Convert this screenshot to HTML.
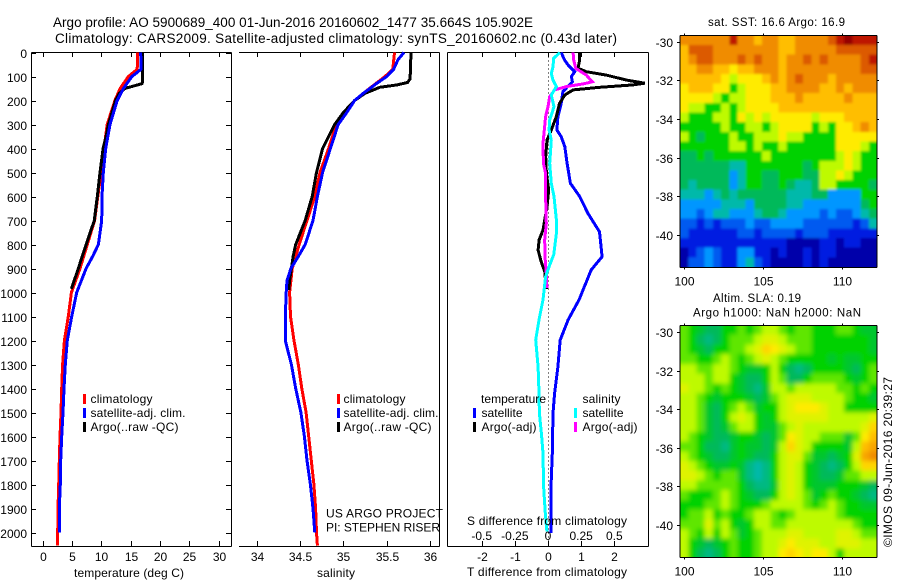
<!DOCTYPE html>
<html>
<head>
<meta charset="utf-8">
<title>Argo profile</title>
<style>
html,body{margin:0;padding:0;background:#fff;}
svg{display:block;font-family:"Liberation Sans",sans-serif;font-size:12px;fill:#000;}
.ax{stroke:#000;stroke-width:1;fill:none;shape-rendering:crispEdges;}
.ln{fill:none;stroke-width:3;stroke-linejoin:miter;shape-rendering:crispEdges;}
</style>
</head>
<body>
<svg id="chart" xmlns="http://www.w3.org/2000/svg" width="900" height="580" viewBox="0 0 900 580">
<defs>
<clipPath id="clipSst"><rect x="680" y="35" width="197" height="232"/></clipPath>
<clipPath id="clipSla"><rect x="680" y="325" width="197" height="233"/></clipPath>
<filter id="soft" x="-5%" y="-5%" width="110%" height="110%"><feGaussianBlur stdDeviation="2.5"/></filter>
<filter id="softer" x="-5%" y="-5%" width="110%" height="110%"><feGaussianBlur stdDeviation="1.2"/></filter>
</defs>
<text x="53" y="27" font-size="13.5" textLength="480" lengthAdjust="spacing">Argo profile: AO 5900689_400 01-Jun-2016 20160602_1477 35.664S 105.902E</text>
<text x="55" y="43" font-size="13.5" textLength="562" lengthAdjust="spacing">Climatology: CARS2009. Satellite-adjusted climatology: synTS_20160602.nc (0.43d later)</text>

<g id="gT"></g>
<g id="gS"></g>
<g id="gD"></g>
<g id="gM1"></g>
<g id="gM2"></g>

<text x="74" y="577" textLength="110" lengthAdjust="spacing">temperature (deg C)</text>
<text x="317" y="577" textLength="38" lengthAdjust="spacing">salinity</text>
<text x="467" y="576" textLength="160" lengthAdjust="spacing">T difference from climatology</text>
<text x="467" y="525" textLength="160" lengthAdjust="spacing">S difference from climatology</text>

<g>
<rect x="83" y="394" width="3" height="10" fill="#f00"/>
<rect x="83" y="408" width="3" height="10" fill="#00f"/>
<rect x="83" y="422" width="3" height="10" fill="#000"/>
<text x="90.5" y="403" textLength="62" lengthAdjust="spacing">climatology</text>
<text x="90.5" y="417" textLength="95" lengthAdjust="spacing">satellite-adj. clim.</text>
<text x="90.5" y="431" textLength="88" lengthAdjust="spacing">Argo(..raw -QC)</text>
</g>
<g>
<rect x="337" y="394" width="3" height="10" fill="#f00"/>
<rect x="337" y="408" width="3" height="10" fill="#00f"/>
<rect x="337" y="422" width="3" height="10" fill="#000"/>
<text x="343.5" y="403" textLength="62" lengthAdjust="spacing">climatology</text>
<text x="343.5" y="417" textLength="95" lengthAdjust="spacing">satellite-adj. clim.</text>
<text x="343.5" y="431" textLength="88" lengthAdjust="spacing">Argo(..raw -QC)</text>
</g>
<text x="326" y="517.5" textLength="117" lengthAdjust="spacing">US ARGO PROJECT</text>
<text x="326" y="531.5" textLength="114" lengthAdjust="spacing">PI: STEPHEN RISER</text>

<g>
<text x="481" y="403" textLength="65" lengthAdjust="spacing">temperature</text>
<text x="481.5" y="417" textLength="41" lengthAdjust="spacing">satellite</text>
<text x="481.5" y="431" textLength="55" lengthAdjust="spacing">Argo(-adj)</text>
<rect x="473" y="408" width="3" height="10" fill="#00f"/>
<rect x="473" y="422" width="3" height="10" fill="#000"/>
<text x="582.5" y="403" textLength="38" lengthAdjust="spacing">salinity</text>
<text x="582.5" y="417" textLength="41" lengthAdjust="spacing">satellite</text>
<text x="582.5" y="431" textLength="55" lengthAdjust="spacing">Argo(-adj)</text>
<rect x="574" y="408" width="3" height="10" fill="#0ff"/>
<rect x="574" y="422" width="3" height="10" fill="#f0f"/>
</g>

<text x="708" y="26" font-size="11.5" textLength="137" lengthAdjust="spacing">sat. SST: 16.6 Argo: 16.9</text>
<text x="713" y="302" font-size="11.5" textLength="88" lengthAdjust="spacing">Altim. SLA: 0.19</text>
<text x="693" y="316.5" font-size="11.5" textLength="168" lengthAdjust="spacing">Argo h1000: NaN h2000: NaN</text>
<text transform="translate(892,547) rotate(-90)" textLength="170" lengthAdjust="spacing">©IMOS 09-Jun-2016 20:39:27</text>
</svg>

<script>
// ---------- data ----------
const depthTicks = [0,100,200,300,400,500,600,700,800,900,1000,1100,1200,1300,1400,1500,1600,1700,1800,1900,2000];
const tempTicks = [0,5,10,15,20,25,30];
const salTicks = [34,34.5,35,35.5,36];
const salTickLabels = ['34','34.5','35','35.5','36'];
const tDiffTicks = [-2,-1,0,1,2];
const tDiffTickLabels = ['-2','-1','0','1','2'];
const sDiffTicks = [-0.5,-0.25,0,0.25,0.5];
const sDiffTickLabels = ['-0.5','-0.25','0','0.25','0.5'];
const lonTicks = [100,105,110];
const latTicks = [-30,-32,-34,-36,-38,-40];

const climDepth = [0,70,100,150,200,300,400,500,600,700,800,900,1000,1100,1200,1300,1400,1500,1600,1700,1800,1900,2000,2055];
const climTemp = [16.2,16.1,14.6,13.2,12.3,11.0,10.45,9.95,9.4,8.85,7.6,6.35,4.9,4.37,3.7,3.4,3.24,3.12,2.95,2.83,2.73,2.6,2.56,2.56];
const satTempDepth = [0,70,85,100,150,200,300,400,500,600,700,800,850,900,1000,1100,1200,1300,1400,1500,1600,1700,1800,1900,2000];
const satTemp = [16.7,16.75,16.0,15.2,13.75,12.7,11.47,10.73,10.33,10.1,10.05,9.5,8.5,7.4,5.8,4.95,4.2,3.85,3.63,3.46,3.24,3.07,3.0,2.83,2.83];
const argoTempDepth = [0,125,130,140,150,170,200,300,350,400,500,600,700,800,900,985];
const argoTemp = [17.05,17.0,16.9,15.45,14.0,13.05,12.4,11.2,10.8,10.3,9.77,9.3,8.8,7.4,6.07,4.9];

const climSal = [35.59,35.57,35.48,35.3,35.13,34.92,34.83,34.73,34.67,34.58,34.49,34.41,34.38,34.39,34.43,34.48,34.52,34.57,34.6,34.63,34.66,34.68,34.69,34.70];
const satSalDepth = [0,30,70,100,130,170,200,250,300,400,500,600,700,800,850,900,950,1000,1100,1200,1300,1400,1500,1600,1700,1800,1900,2000];
const satSal = [35.70,35.63,35.58,35.5,35.38,35.23,35.13,35.04,34.94,34.85,34.76,34.70,34.65,34.56,34.48,34.395,34.35,34.34,34.33,34.33,34.40,34.45,34.51,34.55,34.58,34.62,34.65,34.67];
const argoSalDepth = [0,110,125,135,145,170,200,250,300,350,400,500,600,700,800,850,900,950,990];
const argoSal = [35.78,35.77,35.74,35.62,35.42,35.25,35.13,35.0,34.9,34.83,34.76,34.69,34.64,34.56,34.45,34.42,34.40,34.38,34.37];

const dSatTDepth = [0,31,52,80,100,122,163,212,267,323,351,392,462,545,600,670,747,851,906,1031,1114,1198,1309,1420,1503,1670,1809,2003];
const dSatT = [0.40,0.50,0.61,0.81,0.71,0.74,0.45,0.40,0.30,0.27,0.40,0.51,0.58,0.68,0.96,1.21,1.56,1.64,1.31,0.94,0.61,0.37,0.30,0.20,0.15,0.13,0.09,0.09];
const dArgoTDepth = [0,31,66,80,94,115,128,135,145,156,177,212,267,323,365,434,503,573,642,740,781,823,865,913,985];
const dArgoT = [0.96,0.96,0.91,1.16,1.77,2.38,2.93,2.58,1.57,0.76,0.51,0.35,0.25,0.10,-0.03,-0.07,-0.05,0.02,-0.03,-0.15,-0.27,-0.30,-0.22,-0.10,-0.05];
const dSatSDepth = [0,24,59,87,115,142,177,226,281,323,365,462,545,600,698,754,843,885,934,1031,1114,1198,1309,1420,1503,1587,1670,1809,1920,1996];
const dSatS = [0.09,0.043,0.038,0.025,0.038,0.063,0.025,0.045,0.013,0.008,0.025,0.013,0.025,0.045,0.063,0.063,0.043,0.013,-0.018,-0.038,-0.068,-0.093,-0.075,-0.068,-0.065,-0.05,-0.038,-0.033,-0.02,-0.008];
const dArgoSDepth = [0,31,66,94,122,131,142,156,184,226,267,337,378,462,503,600,712,781,851,920,982];
const dArgoS = [0.189,0.194,0.209,0.289,0.334,0.265,0.139,0.05,0.013,0,-0.018,-0.03,-0.038,-0.035,-0.018,-0.018,-0.013,-0.025,-0.023,-0.013,-0.008];

const sstGrid = [
[10,10,10,10,10,10,12,10,10,9,10,10,9,9,10,10,10,10,11,12,13,12,12,12],
[9,11,11,11,10,10,10,10,10,10,10,10,9,9,10,10,10,10,10,11,11,11,11,11],
[9,10,11,11,10,10,10,11,10,11,10,10,9,10,10,11,10,11,10,10,10,10,11,12],
[9,9,10,10,9,9,8,9,9,10,10,10,9,10,10,10,10,10,10,10,10,10,11,11],
[9,9,9,9,9,8,7,8,8,8,9,10,9,10,11,10,10,10,9,10,10,10,10,10],
[8,9,9,9,8,8,6,7,8,8,8,9,9,10,10,10,10,9,9,10,9,10,10,10],
[8,8,8,8,7,6,7,7,8,8,8,9,9,9,10,9,9,9,9,9,10,9,9,9],
[8,7,7,6,6,7,6,7,8,8,8,8,9,9,9,9,9,9,9,9,9,9,9,9],
[7,6,6,6,7,7,6,8,7,8,7,8,8,8,8,8,7,8,8,8,9,9,9,9],
[6,6,6,6,6,7,6,6,7,7,6,7,8,8,8,8,6,7,6,8,8,9,10,9],
[7,6,5,6,6,6,7,6,6,7,7,7,8,7,7,6,6,6,6,8,8,8,8,8],
[6,6,6,6,6,6,7,7,6,7,6,6,7,6,6,6,6,6,6,8,8,8,7,6],
[5,5,6,5,6,6,6,6,6,6,7,6,6,6,6,6,6,6,6,7,8,7,6,6],
[5,5,5,5,5,5,4,4,6,6,6,6,6,6,6,5,6,7,7,7,8,7,6,6],
[5,5,5,5,5,5,3,4,6,6,5,5,6,6,6,5,5,7,7,8,7,6,6,6],
[5,4,5,5,5,5,3,4,6,6,5,5,6,5,4,4,5,7,7,6,6,6,6,5],
[4,4,4,3,4,5,4,5,5,5,5,5,5,4,4,4,5,5,3,3,3,3,6,6],
[3,3,3,3,3,4,4,4,3,5,5,5,5,4,4,3,3,3,3,3,3,3,5,6],
[3,3,2,3,4,4,3,3,3,4,5,5,4,3,3,3,3,2,3,2,2,3,4,5],
[2,2,1,2,1,2,2,2,3,2,2,3,3,3,3,2,2,2,2,2,2,1,2,4],
[2,1,1,1,1,1,1,2,2,1,2,2,2,2,1,2,2,2,1,1,1,1,1,1],
[1,1,1,1,1,1,1,1,1,1,1,1,1,0,0,0,0,1,1,0,1,1,0,0],
[0,1,2,3,2,1,1,3,3,1,1,0,1,0,0,1,0,1,1,0,0,0,0,0],
[0,2,2,3,2,1,1,3,4,2,1,0,0,0,0,1,0,1,0,0,0,0,0,0]
];
const slaGrid = [
[6.5,6,5.5,5,5,6,6,6.5,6,6.5,7,7,6.5,6,6.5,6.5,6,6,6,6.5,6.5,6,5.5,5.5],
[6.5,6,5,4.5,5,6,6.5,6.5,6.5,7,7.5,7.5,7,6.5,6.5,6.5,6,6,6,6,6,6,6,5.5],
[6.5,6,5.5,5,6,6,6.5,6.5,7,7.5,8.5,8,7.5,7,6.5,6.5,6,6,6,6,6,6,6,5.5],
[6.5,6.5,6,6,6.5,7,6.5,6,6.5,7,7.5,7,6.5,6,6,6,6,6,5.5,6,5.5,5.5,6,6],
[7,7,6.5,6.5,7,7,6.5,6,5.5,5.5,6,7,6,5,4.5,5,6,6,6,6,5.5,5,6,6.5],
[7,7,7,6.5,7,7,6,5.5,5,5,6,7,6.5,5,5,6,6.5,6.5,6.5,6.5,6,5.5,6,6.5],
[7.5,7,7,6.5,6,6.5,6,5.5,5,4.5,5.5,7,7,6.5,7,7,7,7,7,6.5,6.5,6,6.5,6],
[7,7,6.5,6,5.5,6,6,6,5.5,5,5.5,6.5,7,7.5,7.5,7.5,7,7,7,7,6.5,6,6,5.5],
[7,7,6.5,5.5,5,6,6.5,7,6.5,5.5,6,6,7,7.5,8,8,8,7.5,7,7,6,6,6,6],
[7,7,6.5,5.5,5,6,7,7.5,7,6,5.5,6,7,7.5,7.5,7.5,7.5,7.5,7,7,7,7,7,7.5],
[7,7,6.5,5.5,5,5.5,6.5,7,7,6,5.5,5.5,6.5,7,7.5,7,7,7,7,7,7,7,7.5,8.5],
[7,6.5,6,5.5,5,5,5.5,6,6,5.5,5,5.5,6.5,8,7.5,7,7,6.5,6.5,6.5,5.5,6.5,8,9],
[6.5,6.5,6,5,5,4.5,5.5,6,5.5,5.5,5,5.5,7,8.5,7.5,7,6,6,6,6,5.5,7,9,9.5],
[7,6.5,6,5.5,5,5,5.5,6,5.5,5,5,6,7,7.5,7.5,6.5,5.5,5.5,5,5.5,6,7.5,9.5,10],
[7.5,7,6.5,6,5.5,5.5,6,5.5,4.5,4,4.5,6,7,7.5,7,6,5.5,5,4.5,5,6,7,8.5,8.5],
[7.5,7.5,7,6.5,6,6.5,6.5,5.5,4.5,4,4.5,6,7,7.5,7,6,5.5,5,5,5.5,6.5,6.5,7,7],
[7,7,6.5,6.5,6.5,6.5,6.5,6,5,4.5,4.5,5.5,7,7.5,7,6,5.5,5.5,5.5,6,6,6,5.5,5],
[6.5,6,6,6,6.5,7,6.5,6,5.5,5,5,6,7,7.5,7,6.5,5.5,6,6.5,6,6,5.5,5,4.5],
[6,6,6,6.5,6.5,7,6.5,6,6,6,6.5,7,7,7,7,6.5,6,6.5,7,6.5,6,6,5.5,5.5],
[6,6.5,6.5,7,6,6.5,6,6,6.5,7,7,6.5,6,6.5,7,7,7,7,7,6.5,6,6,6,6],
[6.5,6.5,6.5,7.5,6.5,7,6,5.5,6,7,7,6.5,6.5,7,7,7,7,7,7,7,7,6.5,6,6],
[7,6.5,6,7,6,7,6.5,5.5,6,6.5,7,7,7,7.5,7.5,7,7,7,7,7.5,7.5,7,6.5,6.5],
[7,6,5.5,5,5.5,6,6.5,6,6,6.5,7,7,7.5,8,7.5,7.5,7.5,7,7,7.5,7.5,7.5,7,7],
[7,6,5,4.5,5,6,6.5,6,6,6.5,7,7,8,8.5,8,7.5,8,8,7,6,7,7,7,7]
];

// ---------- scales ----------
const SVGNS = 'http://www.w3.org/2000/svg';
const yDepth = d => 52.5 + d * 0.24;
const xTemp = t => 42.7 + t * 5.867;
const xSal = s => 256.7 + (s - 34) * 86.67;
const xTD = t => 548 + t * 33;
const xSD = s => 548 + s * 132.6;
const xLon = l => 684.3 + (l - 100) * 15.73;
const ySst = a => 41.7 + (-30 - a) * 19.33;
const ySla = a => 332.3 + (-30 - a) * 19.27;
const LON0 = 99.73, LON1 = 112.25, SST_LAT0 = -29.67, SST_LAT1 = -41.65, SLA_LAT0 = -29.62, SLA_LAT1 = -41.72;
const ramp = [[0,0,170],[0,30,225],[0,90,240],[0,150,255],[0,185,170],[0,185,90],[0,210,0],[190,250,0],[255,235,0],[255,190,0],[240,140,0],[220,90,0],[190,20,0],[150,0,0]];
function levelColor(v){
  const i = Math.min(Math.floor(v), ramp.length - 2), f = v - i;
  const c = ramp[i].map((n, k) => Math.round(n + (ramp[i + 1][k] - n) * f));
  return 'rgb(' + c.join(',') + ')';
}
function mk(parent, tag, attrs){
  const e = document.createElementNS(SVGNS, tag);
  for (const k in attrs) e.setAttribute(k, attrs[k]);
  parent.appendChild(e);
  return e;
}
function seg(parent, x1, y1, x2, y2){
  const l = mk(parent, 'line', {x1: x1, y1: y1, x2: x2, y2: y2, 'class': 'ax'});
  
  
  return l;
}
function tick(parent, x1, y1, x2, y2){
  const l = mk(parent, 'line', {x1: x1, y1: y1, x2: x2, y2: y2, 'class': 'ax'});
  
  
  return l;
}
function label(parent, x, y, str, anchor){
  const t = mk(parent, 'text', {x: x, y: y, 'text-anchor': anchor});
  t.textContent = str;
  
  
  return t;
}
function profile(parent, xs, depths, xScale, color, name, width){
  const pts = xs.map((v, i) => xScale(v).toFixed(1) + ',' + yDepth(depths[i]).toFixed(1)).join(' ');
  const p = mk(parent, 'polyline', {points: pts, 'class': 'ln', stroke: color, 'stroke-width': width});
  
  
  return p;
}
function heatmap(parent, grid, lat0, lat1, yScale){
  const rows = grid.length, cols = grid[0].length;
  const dLon = (LON1 - LON0) / cols, dLat = (lat1 - lat0) / rows;
  grid.forEach((row, r) => row.forEach((v, c) => {
    let x = xLon(LON0 + c * dLon), y = yScale(lat0 + r * dLat);
    let x2 = xLon(LON0 + (c + 1) * dLon), y2 = yScale(lat0 + (r + 1) * dLat);
    if (c === 0) x -= 14;
    if (c === cols - 1) x2 += 14;
    if (r === 0) y -= 14;
    if (r === rows - 1) y2 += 14;
    const cell = mk(parent, 'rect', {x: x.toFixed(2), y: y.toFixed(2), width: (x2 - x + 0.4).toFixed(2), height: (y2 - y + 0.4).toFixed(2), fill: levelColor(v), 'shape-rendering': 'crispEdges'});
    
    
  }));
}

// ---------- temperature panel ----------
const gT = document.getElementById('gT');
seg(gT, 31.5, 52.5, 231.5, 52.5); seg(gT, 31.5, 546.5, 231.5, 546.5);
seg(gT, 31.5, 52.5, 31.5, 546.5); seg(gT, 231.5, 52.5, 231.5, 546.5);
depthTicks.forEach(d => {
  const y = Math.round(yDepth(d)) + 0.5;
  tick(gT, 31.5, y, 36, y); tick(gT, 231.5, y, 226, y);
  label(gT, 27, y + 4.5, String(d), 'end');
});
tempTicks.forEach(t => {
  const x = Math.round(xTemp(t)) + 0.5;
  tick(gT, x, 52.5, x, 57); tick(gT, x, 546.5, x, 541);
  label(gT, x, 561, String(t), 'middle');
});
profile(gT, climTemp, climDepth, xTemp, '#f00', 'climatology-temperature-line', 3);
profile(gT, argoTemp, argoTempDepth, xTemp, '#000', 'argo-temperature-line', 3.5);
profile(gT, satTemp, satTempDepth, xTemp, '#00f', 'satellite-temperature-line', 3);

// ---------- salinity panel ----------
const gS = document.getElementById('gS');
seg(gS, 239, 52.5, 439.5, 52.5); seg(gS, 239, 546.5, 439.5, 546.5);
seg(gS, 439.5, 52.5, 439.5, 546.5);
salTicks.forEach((s, i) => {
  const x = Math.round(xSal(s)) + 0.5;
  tick(gS, x, 52.5, x, 57); tick(gS, x, 546.5, x, 541);
  label(gS, x, 561, salTickLabels[i], 'middle');
});
profile(gS, climSal, climDepth, xSal, '#f00', 'climatology-salinity-line', 3);
profile(gS, argoSal, argoSalDepth, xSal, '#000', 'argo-salinity-line', 3.5);
profile(gS, satSal, satSalDepth, xSal, '#00f', 'satellite-salinity-line', 3);

// ---------- difference panel ----------
const gD = document.getElementById('gD');
seg(gD, 447.5, 52.5, 648.5, 52.5); seg(gD, 447.5, 546.5, 648.5, 546.5);
seg(gD, 447.5, 52.5, 447.5, 546.5); seg(gD, 648.5, 52.5, 648.5, 546.5);
tDiffTicks.forEach((t, i) => {
  const x = Math.round(xTD(t)) + 0.5;
  tick(gD, x, 52.5, x, 57); tick(gD, x, 546.5, x, 541);
  label(gD, x, 561, tDiffTickLabels[i], 'middle');
});
sDiffTicks.forEach((s, i) => {
  label(gD, xSD(s), 540, sDiffTickLabels[i], 'middle');
});
const zeroLine = mk(gD, 'line', {x1: 548.5, y1: 52.5, x2: 548.5, y2: 546.5, stroke: '#000', 'stroke-width': 1, 'stroke-dasharray': '1 3', 'shape-rendering': 'crispEdges'});


profile(gD, dSatT, dSatTDepth, xTD, '#00f', 'satellite-t-difference-line', 3);
profile(gD, dArgoT, dArgoTDepth, xTD, '#000', 'argo-t-difference-line', 3);
profile(gD, dArgoS, dArgoSDepth, xSD, '#f0f', 'argo-s-difference-line', 3);
profile(gD, dSatS, dSatSDepth, xSD, '#0ff', 'satellite-s-difference-line', 3);

// ---------- maps ----------
function mapFrame(g, top, bottom, yScale){
  seg(g, 680, top, 877, top); seg(g, 680, bottom, 877, bottom);
  seg(g, 680, top, 680, bottom); seg(g, 877, top, 877, bottom);
  lonTicks.forEach(l => {
    const x = Math.round(xLon(l)) + 0.5;
    tick(g, x, top, x, top - 2); tick(g, x, bottom, x, bottom + 2);
    label(g, x, bottom + 18, String(l), 'middle');
  });
  latTicks.forEach(a => {
    const y = Math.round(yScale(a)) + 0.5;
    tick(g, 680, y, 677, y); tick(g, 877, y, 879, y);
    label(g, 673, y + 4.5, String(a), 'end');
  });
}
const gM1 = document.getElementById('gM1');
const sstClip = mk(gM1, 'g', {'clip-path': 'url(#clipSst)'});


const sstLayer = mk(sstClip, 'g', {filter: 'url(#softer)'});


heatmap(sstLayer, sstGrid, SST_LAT0, SST_LAT1, ySst);
mapFrame(gM1, 35.5, 267.5, ySst);

const gM2 = document.getElementById('gM2');
const slaClip = mk(gM2, 'g', {'clip-path': 'url(#clipSla)'});


const slaLayer = mk(slaClip, 'g', {filter: 'url(#soft)'});


heatmap(slaLayer, slaGrid, SLA_LAT0, SLA_LAT1, ySla);
mapFrame(gM2, 325.5, 557.5, ySla);
</script>
</body>
</html>
